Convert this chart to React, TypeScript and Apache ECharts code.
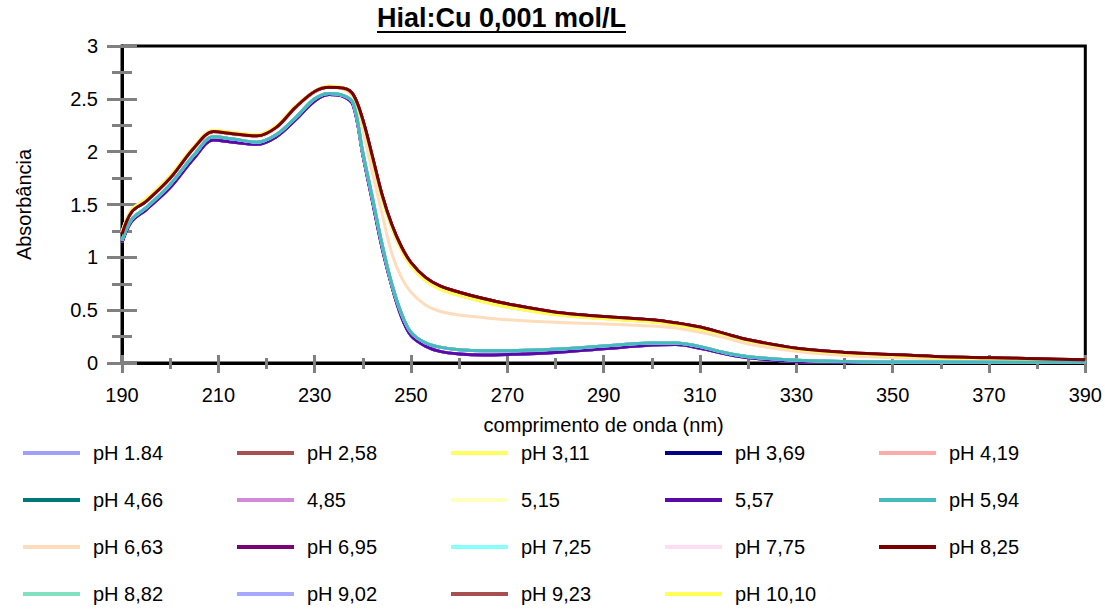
import React, { useEffect, useRef } from "react";
import * as echarts from "echarts";

// wavelength (nm)
const wavelengths = [190, 192, 195, 200, 205, 209, 213, 218, 222, 226, 230, 233, 236, 238, 240, 242, 244, 246, 248, 250, 253, 256, 260, 265, 270, 280, 290, 300, 305, 310, 315, 320, 330, 340, 350, 360, 370, 380, 390];

// absorbance profiles
const absHighRed = [1.22, 1.43, 1.53, 1.75, 2.04, 2.19, 2.17, 2.15, 2.23, 2.42, 2.57, 2.61, 2.6, 2.54, 2.3, 1.95, 1.59, 1.31, 1.1, 0.95, 0.81, 0.73, 0.67, 0.61, 0.56, 0.48, 0.44, 0.41, 0.38, 0.34, 0.28, 0.22, 0.14, 0.10, 0.08, 0.06, 0.05, 0.04, 0.03];
const absHighYellow = [1.24, 1.45, 1.55, 1.77, 2.05, 2.2, 2.18, 2.16, 2.24, 2.43, 2.57, 2.62, 2.6, 2.53, 2.27, 1.92, 1.56, 1.28, 1.07, 0.92, 0.78, 0.70, 0.64, 0.58, 0.53, 0.46, 0.42, 0.39, 0.36, 0.32, 0.27, 0.21, 0.13, 0.09, 0.07, 0.05, 0.04, 0.03, 0.02];
const absPeach = [1.22, 1.43, 1.53, 1.75, 2.03, 2.18, 2.16, 2.14, 2.22, 2.41, 2.56, 2.61, 2.59, 2.51, 2.2, 1.8, 1.41, 1.04, 0.81, 0.67, 0.55, 0.49, 0.455, 0.43, 0.41, 0.385, 0.37, 0.35, 0.33, 0.29, 0.24, 0.18, 0.11, 0.07, 0.05, 0.04, 0.03, 0.03, 0.02];
const absLowTeal = [1.16, 1.36, 1.47, 1.69, 1.97, 2.14, 2.12, 2.09, 2.16, 2.32, 2.5, 2.55, 2.53, 2.46, 1.99, 1.56, 1.12, 0.75, 0.47, 0.29, 0.19, 0.15, 0.125, 0.115, 0.115, 0.13, 0.16, 0.19, 0.19, 0.155, 0.10, 0.06, 0.025, 0.015, 0.01, 0.01, 0.01, 0.01, 0.01];
const absLowPurple = [1.14, 1.34, 1.45, 1.66, 1.94, 2.11, 2.09, 2.07, 2.14, 2.3, 2.48, 2.54, 2.52, 2.44, 1.97, 1.53, 1.09, 0.73, 0.44, 0.26, 0.16, 0.11, 0.085, 0.075, 0.08, 0.10, 0.135, 0.17, 0.175, 0.14, 0.09, 0.05, 0.015, 0.01, 0.005, 0.005, 0.005, 0.005, 0.005];

const seriesNames = ["pH 1.84", "pH 2,58", "pH 3,11", "pH 3,69", "pH 4,19", "pH 4,66", "4,85", "5,15", "5,57", "pH 5,94", "pH 6,63", "pH 6,95", "pH 7,25", "pH 7,75", "pH 8,25", "pH 8,82", "pH 9,02", "pH 9,23", "pH 10,10"];
const seriesColors = ["#A0A0F8", "#A8504F", "#FFFF60", "#000088", "#FFAAAA", "#007878", "#D488D8", "#FFFFC0", "#5A0AAA", "#44BCBC", "#FFDCBC", "#780078", "#88FFFF", "#FFDDF2", "#7A0000", "#80E0C0", "#A8A8FF", "#A8504F", "#FFFF55"];
const seriesProfiles = [absLowTeal, absHighRed, absHighYellow, absLowPurple, absHighYellow, absLowTeal, absLowPurple, absHighYellow, absLowPurple, absLowTeal, absPeach, absHighRed, absLowTeal, absLowPurple, absHighRed, absLowTeal, absLowTeal, absHighRed, absHighYellow];
const seriesZ = [2, 2, 2, 2, 2, 2, 2, 2, 2, 4, 2, 2, 2, 1, 4, 2, 2, 2, 3];

const xTicks = { min: 190, max: 390, interval: 20 };
const yTicks = { min: 0, max: 3, interval: 0.5 };

const FONT = "Liberation Sans, Arial, sans-serif";
const legendColumnsX = [23, 237, 451, 665, 879];

export default function App() {
  const ref = useRef<HTMLDivElement>(null);
  useEffect(() => {
    document.body.style.margin = "0";
    const chart = echarts.init(ref.current as HTMLDivElement, null, { renderer: "svg" });
    const tickStyle = { color: "#808080", width: 3 };
    const option: any = {
      animation: false,
      backgroundColor: "#fff",
      title: {
        text: "Hial:Cu 0,001 mol/L",
        left: 377,
        top: 4,
        padding: 0,
        textStyle: { fontSize: 27, fontWeight: "bold", fontFamily: FONT, color: "#000" },
      },
      graphic: [
        { type: "line", shape: { x1: 377, y1: 32, x2: 626, y2: 32 }, style: { stroke: "#000", lineWidth: 2 } },
      ],
      grid: { left: 122, right: 18, top: 46, bottom: 246, show: true, borderColor: "#000", borderWidth: 3, backgroundColor: "transparent" },
      legend: legendColumnsX.map((x, c) => ({
        orient: "vertical",
        left: x,
        top: 443,
        padding: 0,
        height: 166,
        itemWidth: 57,
        itemHeight: 4,
        itemGap: 27,
        icon: "rect",
        selectedMode: false,
        data: seriesNames.filter((_, i) => i % 5 === c),
        textStyle: { fontSize: 20, fontFamily: FONT, color: "#000", lineHeight: 20, padding: [0, 0, 0, 8] },
      })),
      xAxis: [
        {
          type: "value", ...xTicks, position: "bottom",
          axisLine: { show: true, onZero: false, lineStyle: { color: "#000", width: 3 } },
          axisTick: { show: true, inside: false, length: 10, lineStyle: tickStyle },
          minorTick: { show: true, splitNumber: 2, length: 6, lineStyle: tickStyle },
          splitLine: { show: false },
          axisLabel: { margin: 22, fontSize: 20, color: "#000", fontFamily: FONT },
          name: "comprimento de onda (nm)", nameLocation: "middle", nameGap: 52,
          nameTextStyle: { fontSize: 20, color: "#000", fontFamily: FONT },
        },
        {
          type: "value", ...xTicks, position: "bottom",
          axisLine: { show: false, onZero: false },
          axisTick: { show: true, inside: true, length: 8, lineStyle: tickStyle },
          minorTick: { show: true, splitNumber: 2, length: 5, lineStyle: tickStyle },
          splitLine: { show: false }, axisLabel: { show: false },
        },
      ],
      yAxis: [
        {
          type: "value", ...yTicks, position: "left",
          axisLine: { show: true, onZero: false, lineStyle: { color: "#000", width: 3 } },
          axisTick: { show: true, inside: false, length: 15, lineStyle: tickStyle },
          minorTick: { show: true, splitNumber: 2, length: 10, lineStyle: tickStyle },
          splitLine: { show: false },
          axisLabel: { margin: 24, fontSize: 20, color: "#000", fontFamily: FONT },
          name: "Absorbância", nameLocation: "middle", nameGap: 88,
          nameTextStyle: { fontSize: 20, color: "#000", fontFamily: FONT },
        },
        {
          type: "value", ...yTicks, position: "left",
          axisLine: { show: false, onZero: false },
          axisTick: { show: true, inside: true, length: 15, lineStyle: tickStyle },
          minorTick: { show: true, splitNumber: 2, length: 10, lineStyle: tickStyle },
          splitLine: { show: false }, axisLabel: { show: false },
        },
      ],
      series: seriesNames.map((name, i) => ({
        name,
        type: "line",
        xAxisIndex: 0,
        yAxisIndex: 0,
        data: wavelengths.map((w, j) => [w, seriesProfiles[i][j]]),
        smooth: 0.35,
        showSymbol: false,
        symbol: "none",
        z: seriesZ[i],
        color: seriesColors[i],
        itemStyle: { color: seriesColors[i] },
        lineStyle: { color: seriesColors[i], width: 3 },
      })),
    };
    chart.setOption(option);
    return () => chart.dispose();
  }, []);
  return <div ref={ref} style={{ width: 1105, height: 609, overflow: "hidden" }} />;
}
